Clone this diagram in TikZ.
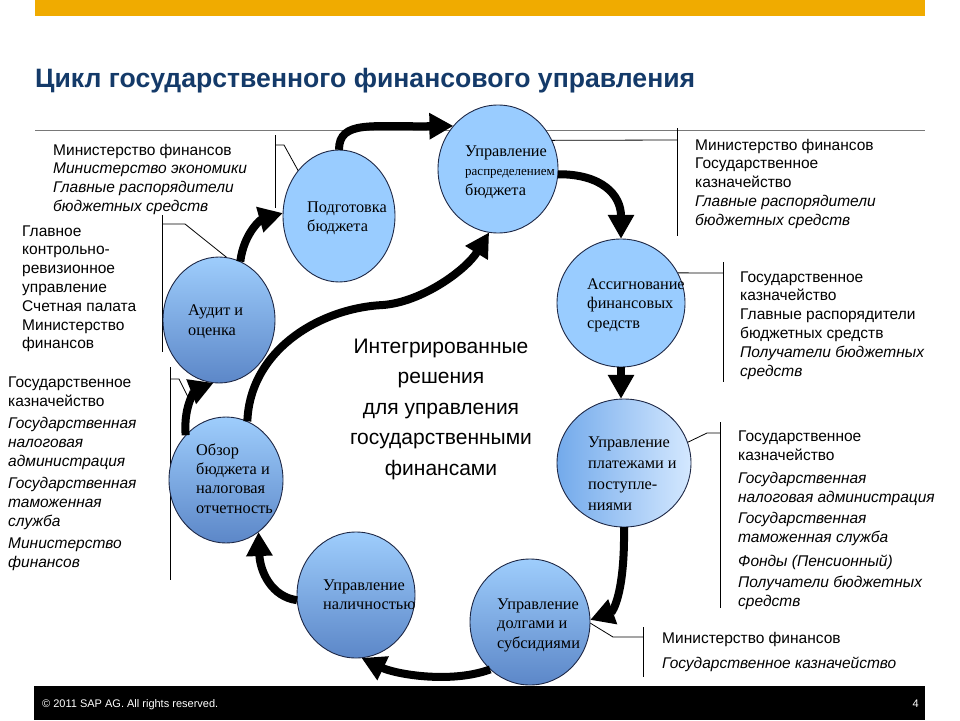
\documentclass[tikz,border=0pt]{standalone}
\usepackage{fontspec}
\setmainfont{Liberation Sans}
\newfontfamily\serifcirc{Liberation Serif}
\usetikzlibrary{shapes.geometric,arrows.meta}

\definecolor{sapgold}{RGB}{240,171,0}
\definecolor{titleblue}{RGB}{20,58,105}
\definecolor{lightblue}{RGB}{153,204,255}
\definecolor{gradtop}{RGB}{158,205,252}
\definecolor{gradbot}{RGB}{92,135,200}
\definecolor{payleft}{RGB}{115,170,235}
\definecolor{payright}{RGB}{212,232,255}
\definecolor{edgecol}{RGB}{30,40,70}
\definecolor{rulegray}{RGB}{120,120,120}

\tikzset{
  stage/.style={ellipse, draw=edgecol, line width=0.9pt, inner sep=0pt},
  flow/.style={line width=8pt, -{Triangle[length=24pt,width=25pt]}},
  callout/.style={draw=black, line width=0.8pt},
  ctext/.style={anchor=base west, inner sep=0pt, align=left, font=\serifcirc\fontsize{16.3}{19.5}\selectfont},
  btext/.style={anchor=base west, inner sep=0pt, align=left, font=\fontsize{15.5}{18.8}\selectfont},
}

\begin{document}
\begin{tikzpicture}[x=1pt,y=-1pt]
\useasboundingbox (0,0) rectangle (960,720);
\fill[white] (0,0) rectangle (960,720);

% header
\fill[sapgold] (35,0) rectangle (925,16);
\node[anchor=base west, inner sep=0pt, text=titleblue, font=\fontsize{26.6}{30}\selectfont\bfseries] (title) at (35,87) {Цикл государственного финансового управления};
\draw[rulegray, line width=1pt] (35,130) -- (925,130);

% footer
\fill[black] (34,686) rectangle (925,720);
\node[anchor=base west, inner sep=0pt, text=white, font=\fontsize{11}{13}\selectfont] (copy) at (42,707) {© 2011 SAP AG. All rights reserved.};
\node[anchor=base east, inner sep=0pt, text=white, font=\fontsize{11}{13}\selectfont] (pagenum) at (919,707) {4};

% stage coordinates
\coordinate (cprep) at (339,216);
\coordinate (cdistr) at (498,169);
\coordinate (cassig) at (621,303);
\coordinate (cpay) at (624,463);
\coordinate (cdebt) at (530,622);
\coordinate (ccash) at (356,595);
\coordinate (creview) at (226,480);
\coordinate (caudit) at (219,320);

% invisible placeholders for anchors
\path node[ellipse, inner sep=0pt, minimum width=112pt, minimum height=132pt] (prep) at (cprep) {}
      node[ellipse, inner sep=0pt, minimum width=120pt, minimum height=128pt] (distr) at (cdistr) {}
      node[ellipse, inner sep=0pt, minimum width=128pt, minimum height=128pt] (assig) at (cassig) {}
      node[ellipse, inner sep=0pt, minimum width=134pt, minimum height=128pt] (pay) at (cpay) {}
      node[ellipse, inner sep=0pt, minimum width=120pt, minimum height=126pt] (debt) at (cdebt) {}
      node[ellipse, inner sep=0pt, minimum width=118pt, minimum height=126pt] (cash) at (ccash) {}
      node[ellipse, inner sep=0pt, minimum width=114pt, minimum height=126pt] (review) at (creview) {}
      node[ellipse, inner sep=0pt, minimum width=112pt, minimum height=126pt] (audit) at (caudit) {};

% callout lines
\draw[callout] (275,135) -- (275,208);
\draw[callout] (275,145) -- (284,145) -- (prep.132);
\draw[callout] (162,215) -- (162,352);
\draw[callout] (162,224) -- (185,224) -- (audit.83);
\coordinate (reviewpt) at (188,397);
\draw[callout] (170,367) -- (170,580);
\draw[callout] (170,379) -- (179,379) -- (reviewpt);
\draw[callout] (677,128) -- (677,236);
\draw[callout] (distr.28) -- (677,140);
\draw[callout] (723,262) -- (723,382);
\draw[callout] (assig.28) -- (723,273);
\draw[callout] (720,422) -- (720,608);
\draw[callout] (pay.18) -- (707,433) -- (720,433);
\draw[callout] (643,627) -- (643,677);
\draw[callout] (debt.-1) -- (613,637) -- (643,637);

% circles
\node[stage, fill=lightblue, minimum width=112pt, minimum height=132pt] (prepc) at (cprep) {};
\node[stage, fill=lightblue, minimum width=120pt, minimum height=128pt] (distrc) at (cdistr) {};
\node[stage, fill=lightblue, minimum width=128pt, minimum height=128pt] (assigc) at (cassig) {};
\node[stage, left color=payleft, right color=payright, minimum width=134pt, minimum height=128pt] (payc) at (cpay) {};
\node[stage, top color=gradtop, bottom color=gradbot, minimum width=120pt, minimum height=126pt] (debtc) at (cdebt) {};
\node[stage, top color=gradtop, bottom color=gradbot, minimum width=118pt, minimum height=126pt] (cashc) at (ccash) {};
\node[stage, top color=gradtop, bottom color=gradbot, minimum width=114pt, minimum height=126pt] (reviewc) at (creview) {};
\node[stage, top color=gradtop, bottom color=gradbot, minimum width=112pt, minimum height=126pt] (auditc) at (caudit) {};

% flow arrows
\coordinate (sbend) at (383,305);
\draw[flow] (prep.north) .. controls (339,120) and (372,127) .. (distr.136);
\draw[flow] (distr.-5) .. controls (602,174) and (621,195) .. (assig.north);
\draw[flow] (assig.south) -- (assig.south |- pay.north);
\draw[flow] (pay.south) .. controls (625,595) and (612,612) .. (debt.2);
\draw[flow] (debt.-130) .. controls (450,684) and (395,674) .. (cash.-85);
\draw[flow] (cash.185) .. controls (272,597) and (260,572) .. (review.-58);
\draw[flow] (review.132) .. controls (183,402) and (198,389) .. (audit.-95);
\draw[flow] (audit.70) .. controls (244,232) and (262,219) .. (prep.177);
\draw[flow] (review.70) .. controls (250,350) and (320,308) .. (sbend) .. controls (422,302) and (466,270) .. (distr.-98);

% circle texts (anchor base = baseline of last line)
\node[ctext] (tprep) at (307,231.5) {Подготовка\\бюджета};
\node[ctext] (tdistr) at (465,195) {Управление\\{\fontsize{13}{19.5}\selectfont распределением}\\бюджета};
\node[ctext] (tassig) at (587,328) {Ассигнование\\финансовых\\средств};
\node[ctext, font=\serifcirc\fontsize{16.3}{20.7}\selectfont] (tpay) at (588,510) {Управление\\платежами и\\поступле-\\ниями};
\node[ctext] (tdebt) at (497,648) {Управление\\долгами и\\субсидиями};
\node[ctext] (tcash) at (323,609.5) {Управление\\наличностью};
\node[ctext, font=\serifcirc\fontsize{16.3}{19.3}\selectfont] (treview) at (196,513) {Обзор\\бюджета и\\налоговая\\отчетность};
\node[ctext, font=\serifcirc\fontsize{16.3}{20}\selectfont] (taudit) at (188,335) {Аудит и\\оценка};

% central text
\node[anchor=base, inner sep=0pt, align=center, font=\fontsize{21}{30.5}\selectfont] (center) at (441,475) {Интегрированные\\решения\\для управления\\государственными\\финансами};

% side text blocks
\node[btext] (txtA) at (53,211.4) {Министерство финансов\\\textit{Министерство экономики}\\\textit{Главные распорядители}\\\textit{бюджетных средств}};
\node[btext] (txtB) at (22,348.8) {Главное\\контрольно-\\ревизионное\\управление\\Счетная палата\\Министерство\\финансов};
\node[btext, font=\fontsize{15.5}{19}\selectfont] (txtC) at (8,567) {Государственное\\казначейство\\[3pt]\textit{Государственная}\\\textit{налоговая}\\\textit{администрация}\\[3pt]\textit{Государственная}\\\textit{таможенная}\\\textit{служба}\\[3pt]\textit{Министерство}\\\textit{финансов}};
\node[btext] (txtD) at (695,225.2) {Министерство финансов\\Государственное\\казначейство\\\textit{Главные распорядители}\\\textit{бюджетных средств}};
\node[btext] (txtE) at (740,376) {Государственное\\казначейство\\Главные распорядители\\бюджетных средств\\\textit{Получатели бюджетных}\\\textit{средств}};
\node[btext, font=\fontsize{15.5}{19}\selectfont] (txtF) at (738,606) {Государственное\\казначейство\\[4pt]\textit{Государственная}\\\textit{налоговая администрация}\\[2pt]\textit{Государственная}\\\textit{таможенная служба}\\[5pt]\textit{Фонды (Пенсионный)}\\[2pt]\textit{Получатели бюджетных}\\\textit{средств}};
\node[btext, font=\fontsize{15.5}{19}\selectfont] (txtG) at (662,668) {Министерство финансов\\[6pt]\textit{Государственное казначейство}};
\end{tikzpicture}
\end{document}
